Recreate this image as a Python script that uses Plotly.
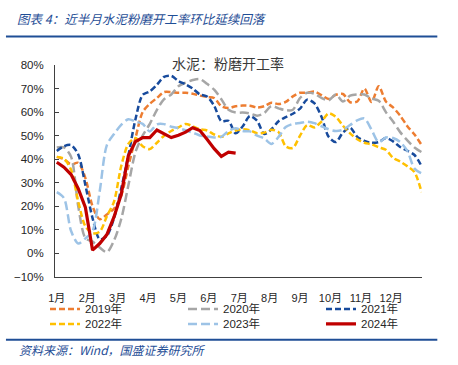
import plotly.graph_objects as go

# ---------------- data (weekly, % ) ----------------
weeks = list(range(52))
month_labels = ["1月", "2月", "3月", "4月", "5月", "6月", "7月", "8月", "9月", "10月", "11月", "12月"]

y2019 = [41, 40, 37.8, 38.5, 32, 20, 14.5, 16.5, 19, 24.5, 37, 49, 60, 63.5, 66, 68.5, 68.5, 68.2, 68.2, 67.8,
         67, 66.4, 66, 62.5, 61.7, 62.5, 62.8, 62.7, 62, 62.5, 64, 63.4, 64.3, 66.7, 68.2, 68.2, 68.7, 67.2, 65.6, 67.3,
         67.7, 64.2, 64.5, 70, 64.3, 71, 64.5, 62, 58.5, 54, 50.5, 46]
y2020 = [45, 45, 41, 20, 6.5, 5, 2.5, 0.5, 5.5, 14.5, 28.8, 43, 50, 55, 61, 65.5, 67.5, 71, 72.5, 73.6,
         74, 72, 69.5, 65.5, 61, 59.8, 59.8, 59.4, 58.5, 59.6, 62.6, 61.6, 60.8, 61, 66, 68.2, 67.8, 66, 65, 67.5,
         64.5, 67, 67.5, 67.5, 65.8, 64.8, 60, 56, 51.5, 48, 45, 43]
y2021 = [43.5, 45.5, 46, 42, 29, 15, 6, 7.5, 15, 27.5, 41.5, 57, 67.3, 68.8, 71.6, 75, 75.4, 73.2, 71.8, 70,
         67.5, 66.6, 62.7, 56.2, 56.3, 51, 54, 58.3, 56.3, 50.7, 52.7, 56.1, 57.9, 59.3, 61.5, 65.3, 63.8, 58, 49.5, 47.3,
         51.3, 53.4, 49.5, 47.8, 47, 47.3, 49, 47.6, 45.2, 43.6, 41.8, 37]
y2022 = [41, 40.2, 35.5, 22, 11.5, 8.6, 9.2, 15.8, 22, 37, 46.5, 49, 45.5, 44.3, 47, 50, 52, 53.5, 55, 54,
         52.7, 52.2, 50.5, 49.5, 51, 52.2, 52.7, 52.3, 51, 51.3, 52.5, 51.5, 45.5, 44.8, 50, 54.5, 53.5, 56, 59.5, 58,
         54.2, 51, 48.5, 47, 46.3, 45.1, 44, 40.6, 39, 37, 34.5, 26]
y2023 = [26, 23.5, 9.5, 4.2, 6.4, 9.5, 26.4, 46, 50.7, 54.6, 57, 56, 55, 51.8, 54.8, 54.9, 53.8, 53.2, 52.3, 51.3,
         50.1, 49.7, 49.2, 49.5, 52, 53.2, 52, 51.8, 50, 48.8, 46.5, 49.5, 53.7, 55, 55.4, 55.9, 55.3, 54, 52.7, 52,
         52.5, 54.5, 56.5, 57.3, 52.5, 47.2, 49.2, 49, 47.3, 43.5, 36, 34]
y2024 = [38.7, 36.6, 33.5, 27.5, 19.5, 1.4, 4.2, 8, 15.5, 25, 41.5, 47.5, 49.2, 49.2, 52.4, 50.8, 49.2, 50.2, 51.5,
         53.4, 52.2, 48.5, 44.5, 41.2, 43, 42.6]

series = [
    ("2019年", y2019, "#ED7D31", "6px,3px", "legend"),
    ("2020年", y2020, "#A6A6A6", "9px,4px", "legend"),
    ("2021年", y2021, "#174A9C", "6px,3px", "legend"),
    ("2022年", y2022, "#FFC000", "6px,3px", "legend2"),
    ("2023年", y2023, "#9DC3E6", "9px,4px", "legend2"),
]

# ---------------- geometry helpers ----------------
W, H = 458, 365
L, R, T, B = 55, 421.7, 65, 277.5
def px_x(p):
    return (p - L) / (R - L)
def px_y(p):
    return (B - p) / (B - T)

fig = go.Figure()
for name, vals, color, dash, lg in series:
    fig.add_trace(go.Scatter(
        x=weeks[:len(vals)], y=vals, name=name, mode="lines",
        line=dict(color=color, width=2.5, dash=dash, shape="spline", smoothing=0.8),
        legend=lg))
fig.add_trace(go.Scatter(
    x=weeks[:len(y2024)], y=y2024, name="2024年", mode="lines",
    line=dict(color="#C00000", width=3.2), legend="legend2"))

FONT = "Liberation Sans, Noto Sans CJK SC, sans-serif"
BLUE = "#1F4E96"

legend_common = dict(orientation="h", xanchor="left", yanchor="middle",
                     entrywidth=93, entrywidthmode="pixels",
                     font=dict(family=FONT, size=11.5, color="#262626"),
                     bgcolor="rgba(0,0,0,0)", itemwidth=30, traceorder="normal")

fig.update_layout(
    width=W, height=H,
    margin=dict(l=L, r=W - R, t=T, b=H - B, autoexpand=False),
    paper_bgcolor="white", plot_bgcolor="white",
    font=dict(family=FONT, color="#262626"),
    showlegend=True,
    legend=dict(x=px_x(45), y=px_y(309.5), **legend_common),
    legend2=dict(x=px_x(45), y=px_y(324.5), **legend_common),
    xaxis=dict(range=[-0.25, 51.05], showline=True, linecolor="#404040", linewidth=1,
               showgrid=False, zeroline=False, ticks="",
               tickvals=[i * 4.25 for i in range(12)], ticktext=month_labels,
               tickfont=dict(family=FONT, size=11, color="#262626"),
               ticklabelstandoff=11),
    yaxis=dict(range=[-10, 80], dtick=10, ticksuffix="%", showline=True,
               linecolor="#404040", linewidth=1, showgrid=False, zeroline=False,
               ticks="inside", ticklen=4, tickcolor="#404040",
               tickfont=dict(family=FONT, size=11.5, color="#262626"),
               ticklabelstandoff=8),
)

annotations = [
    dict(text="图表 4：近半月水泥粉磨开工率环比延续回落", x=px_x(15), y=px_y(18),
         xanchor="left", yanchor="middle",
         font=dict(family="Noto Sans CJK SC", size=12.5, color=BLUE, style="italic")),
    dict(text="水泥：粉磨开工率", x=px_x(228), y=px_y(63),
         xanchor="center", yanchor="middle",
         font=dict(family="Noto Sans CJK SC", size=14, color="#3A3A3A")),
    dict(text="资料来源：Wind，国盛证券研究所", x=px_x(17), y=px_y(350),
         xanchor="left", yanchor="middle",
         font=dict(family="Noto Sans CJK SC", size=12, color=BLUE, style="italic")),
]
for a in annotations:
    a.update(xref="paper", yref="paper", showarrow=False)
fig.update_layout(annotations=annotations)

fig.update_layout(shapes=[
    dict(type="line", xref="paper", yref="paper", x0=px_x(6), x1=px_x(437),
         y0=px_y(36.5), y1=px_y(36.5), line=dict(color=BLUE, width=2)),
    dict(type="line", xref="paper", yref="paper", x0=px_x(6), x1=px_x(437),
         y0=px_y(340.5), y1=px_y(340.5), line=dict(color=BLUE, width=2)),
])

fig.write_html("out.html", config={"displayModeBar": False},
               post_script="document.body.style.margin='0';")
